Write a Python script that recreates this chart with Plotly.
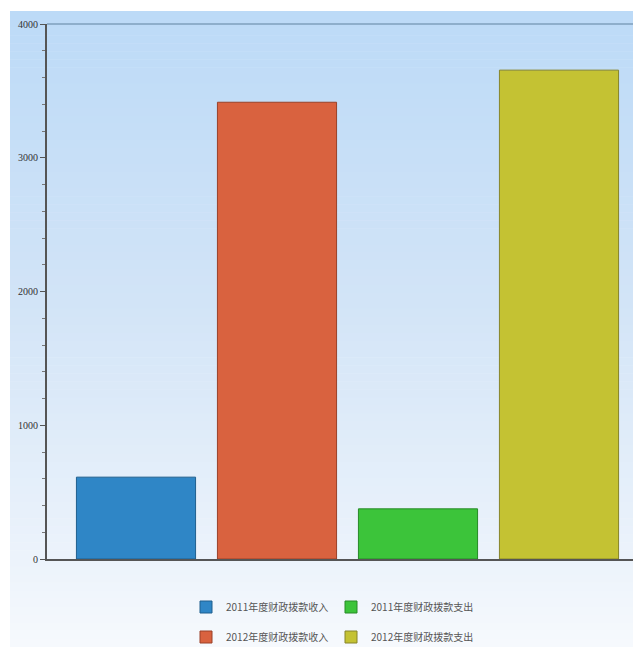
import plotly.graph_objects as go

# ---- data ----
series_names = ["2011年度财政拨款收入", "2012年度财政拨款收入", "2011年度财政拨款支出", "2012年度财政拨款支出"]
series_values = [612, 3415, 375, 3655]
bar_colors = ["#2f86c6", "#d9623f", "#3cc43a", "#c4c233"]
edge_colors = ["#1f5f8e", "#9a4028", "#278a27", "#86842a"]
legend_group = ["legend", "legend2", "legend", "legend2"]
legend_rank = [1, 1, 2, 2]
y_ticks = [0, 1000, 2000, 3000, 4000]
y_ticklabels = ["0", "1000", "2000", "3000", "4000"]

# page body has a default 8px margin; keep the figure small enough that the page does not overflow
OFF = 8
W, H = 641 - 2 * OFF, 655 - 2 * OFF
ML, MR, MT = 47 - OFF, 0, 24 - OFF
PLOT_BOTTOM = 559 - OFF
MB = H - PLOT_BOTTOM
PW, PH = W - ML - MR, H - MT - MB

fig = go.Figure()
for name, val, col, ec, lg, rk in zip(series_names, series_values, bar_colors, edge_colors, legend_group, legend_rank):
    fig.add_trace(go.Bar(
        x=[name], y=[val], name=name, width=0.845,
        marker=dict(color=col, line=dict(color=ec, width=1)),
        legend=lg, legendrank=rk,
    ))

def px2paper_x(px):
    return (px - OFF - ML) / PW

def px2paper_y(py):
    return (PLOT_BOTTOM - (py - OFF)) / PH

def lerp(c1, c2, t):
    return "rgb(%d,%d,%d)" % tuple(round(a + (b - a) * t) for a, b in zip(c1, c2))

shapes = []
top_px, bot_px = 11, 655
stops = [(11, (188, 218, 247)), (300, (210, 228, 247)), (559, (236, 243, 251)), (655, (248, 250, 253))]
n = 80
for i in range(n):
    y0 = top_px + (bot_px - top_px) * i / n
    y1 = top_px + (bot_px - top_px) * (i + 1) / n
    ym = (y0 + y1) / 2
    for (a, ca), (b, cb) in zip(stops[:-1], stops[1:]):
        if a <= ym <= b:
            col = lerp(ca, cb, (ym - a) / (b - a))
            break
    shapes.append(dict(type="rect", xref="paper", yref="paper", layer="below",
                       x0=px2paper_x(10), x1=1.0, y0=px2paper_y(y1 + 0.5), y1=px2paper_y(y0),
                       fillcolor=col, line=dict(width=0)))
shapes.append(dict(type="line", xref="paper", yref="paper", x0=0, x1=1, y0=1, y1=1,
                   line=dict(color="#7f9fbd", width=1.5), layer="above"))

legend_x = px2paper_x(205 - 19)
x_left = -(136 - 47) / 141.0
x_right = (641 - OFF - 136) / 141.0

fig.update_layout(
    width=W, height=H,
    margin=dict(l=ML, r=MR, t=MT, b=MB, pad=0, autoexpand=False),
    paper_bgcolor="#ffffff",
    plot_bgcolor="rgba(0,0,0,0)",
    barmode="overlay",
    shapes=shapes,
    font=dict(family="Noto Sans CJK SC", size=10, color="#444444"),
    legend=dict(orientation="h", x=legend_x, y=px2paper_y(607), xanchor="left", yanchor="middle",
                entrywidth=100, entrywidthmode="pixels", bgcolor="rgba(0,0,0,0)",
                font=dict(size=10, color="#555555"), itemclick=False, tracegroupgap=0),
    legend2=dict(orientation="h", x=legend_x, y=px2paper_y(637), xanchor="left", yanchor="middle",
                 entrywidth=100, entrywidthmode="pixels", bgcolor="rgba(0,0,0,0)",
                 font=dict(size=10, color="#555555"), itemclick=False, tracegroupgap=0),
    xaxis=dict(type="category", categoryorder="array", categoryarray=series_names,
               range=[x_left, x_right], showticklabels=False, ticks="", showgrid=False,
               showline=True, linecolor="#555555", linewidth=2, zeroline=False, fixedrange=True),
    yaxis=dict(range=[0, 4000], tickvals=y_ticks, ticktext=y_ticklabels, ticks="outside",
               ticklen=5, tickwidth=1, tickcolor="#555555", showgrid=False, zeroline=False,
               showline=True, linecolor="#555555", linewidth=2,
               minor=dict(dtick=200, ticks="outside", ticklen=3, tickcolor="#777777", showgrid=False),
               tickfont=dict(family="Liberation Serif", size=10, color="#333333"),
               fixedrange=True),
)

fig.write_html("out.html")
